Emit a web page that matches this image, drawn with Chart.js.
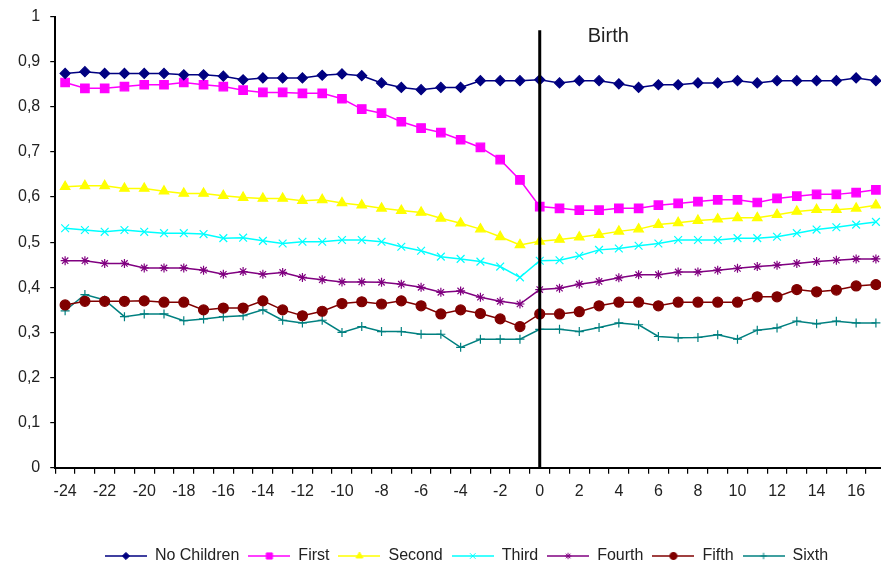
<!DOCTYPE html>
<html>
<head>
<meta charset="utf-8">
<title>Birth</title>
<script src="https://cdn.jsdelivr.net/npm/chart.js"></script>
<style>
  body { margin: 0; background: #fff; overflow: hidden; }
  #contenedor { position: absolute; left: 0; top: -3px; width: 893px; height: 577px; }
</style>
</head>
<body>
<div id="contenedor"><canvas id="myChart"></canvas></div>
<script>
// Meses alrededor del nacimiento (eje x)
const meses = [-24, -23, -22, -21, -20, -19, -18, -17, -16, -15, -14, -13, -12, -11, -10, -9, -8, -7, -6, -5, -4, -3, -2, -1,
  0, 1, 2, 3, 4, 5, 6, 7, 8, 9, 10, 11, 12, 13, 14, 15, 16, 17];

// Series
const noChildren = [0.874, 0.878, 0.874, 0.874, 0.874, 0.874, 0.871, 0.871, 0.868, 0.86, 0.864, 0.864, 0.864, 0.87, 0.873, 0.869, 0.853, 0.843, 0.838, 0.843, 0.843, 0.858, 0.858, 0.858,
  0.86, 0.853, 0.858, 0.858, 0.851, 0.843, 0.849, 0.849, 0.853, 0.853, 0.858, 0.853, 0.858, 0.858, 0.858, 0.858, 0.864, 0.858];
const first = [0.854, 0.841, 0.841, 0.845, 0.849, 0.849, 0.854, 0.849, 0.845, 0.837, 0.832, 0.832, 0.83, 0.83, 0.818, 0.795, 0.786, 0.767, 0.753, 0.743, 0.727, 0.71, 0.683, 0.638,
  0.579, 0.575, 0.571, 0.571, 0.575, 0.575, 0.582, 0.586, 0.59, 0.594, 0.594, 0.588, 0.597, 0.602, 0.606, 0.606, 0.61, 0.616];
const second = [0.623, 0.625, 0.625, 0.619, 0.619, 0.613, 0.608, 0.608, 0.603, 0.599, 0.597, 0.597, 0.592, 0.594, 0.587, 0.582, 0.575, 0.57, 0.566, 0.553, 0.542, 0.529, 0.512, 0.494,
  0.502, 0.506, 0.511, 0.517, 0.524, 0.529, 0.539, 0.543, 0.548, 0.551, 0.554, 0.554, 0.561, 0.568, 0.572, 0.572, 0.575, 0.582];
const third = [0.531, 0.527, 0.523, 0.527, 0.523, 0.52, 0.52, 0.518, 0.509, 0.51, 0.503, 0.497, 0.501, 0.501, 0.505, 0.505, 0.501, 0.49, 0.481, 0.468, 0.463, 0.457, 0.446, 0.422,
  0.459, 0.46, 0.47, 0.483, 0.486, 0.492, 0.497, 0.505, 0.505, 0.505, 0.509, 0.509, 0.512, 0.52, 0.528, 0.533, 0.539, 0.545];
const fourth = [0.459, 0.459, 0.453, 0.453, 0.443, 0.443, 0.443, 0.438, 0.429, 0.435, 0.429, 0.433, 0.422, 0.417, 0.412, 0.412, 0.411, 0.407, 0.4, 0.389, 0.392, 0.378, 0.369, 0.363,
  0.395, 0.398, 0.407, 0.413, 0.421, 0.428, 0.428, 0.434, 0.434, 0.438, 0.442, 0.446, 0.449, 0.453, 0.457, 0.46, 0.463, 0.463];
const fifth = [0.361, 0.369, 0.369, 0.369, 0.37, 0.367, 0.367, 0.35, 0.354, 0.354, 0.37, 0.35, 0.337, 0.347, 0.364, 0.368, 0.363, 0.37, 0.359, 0.341, 0.35, 0.342, 0.33, 0.313,
  0.341, 0.341, 0.346, 0.359, 0.367, 0.367, 0.359, 0.367, 0.367, 0.367, 0.367, 0.379, 0.379, 0.395, 0.39, 0.394, 0.403, 0.406];
const sixth = [0.348, 0.384, 0.372, 0.335, 0.341, 0.341, 0.326, 0.33, 0.335, 0.337, 0.35, 0.327, 0.321, 0.327, 0.3, 0.313, 0.302, 0.302, 0.296, 0.296, 0.267, 0.285, 0.285, 0.285,
  0.307, 0.307, 0.302, 0.311, 0.321, 0.317, 0.291, 0.288, 0.289, 0.295, 0.285, 0.305, 0.31, 0.325, 0.319, 0.325, 0.321, 0.321];

const nombres = ["No Children", "First", "Second", "Third", "Fourth", "Fifth", "Sixth"];
const series = [noChildren, first, second, third, fourth, fifth, sixth];

// estilos de cada serie
const colores = ["#000080", "#ff00ff", "#ffff00", "#00ffff", "#800080", "#800000", "#008080"];
const marcas = ["rectRot", "rect", "triangle", "crossRot", "star", "circle", "cross"];
const radios = [5, 6, 5.5, 5.5, 4.5, 5, 4.5];

const fuente = '"Liberation Sans", Arial, sans-serif';

// icono de la leyenda: linea + marca chica
function icono(i) {
  const c = document.createElement("canvas");
  c.width = 42;
  c.height = 14;
  const ctx = c.getContext("2d");
  ctx.strokeStyle = colores[i];
  ctx.fillStyle = colores[i];
  ctx.lineWidth = 1.5;
  ctx.beginPath();
  ctx.moveTo(0, 7);
  ctx.lineTo(42, 7);
  ctx.stroke();
  ctx.lineWidth = 1;
  Chart.helpers.drawPoint(ctx, { pointStyle: marcas[i], radius: radios[i] * 0.72, borderWidth: 1, rotation: 0 }, 21, 7);
  return c;
}
const iconos = nombres.map((n, i) => icono(i));

// linea vertical del nacimiento
const lineaNacimiento = {
  id: "lineaNacimiento",
  afterLayout(chart) {
    // la leyenda del original esta un poco corrida a la derecha
    chart.legend.left += 16;
    chart.legend.right += 16;
  },
  afterDatasetsDraw(chart) {
    const { ctx, scales: { x, y } } = chart;
    const px = x.getPixelForValue(meses.indexOf(0));
    ctx.save();
    ctx.strokeStyle = "#000";
    ctx.lineWidth = 3;
    ctx.beginPath();
    ctx.moveTo(px, y.getPixelForValue(0));
    ctx.lineTo(px, y.getPixelForValue(0.97));
    ctx.stroke();
    ctx.fillStyle = "#222";
    ctx.font = "20px " + fuente;
    ctx.textBaseline = "middle";
    ctx.fillText("Birth", px + 48, y.getPixelForValue(0.955));
    ctx.restore();
  }
};

const data = {
  labels: meses,
  datasets: series.map((s, i) => ({
    label: nombres[i],
    data: s,
    borderColor: colores[i],
    backgroundColor: colores[i],
    borderWidth: 1.5,
    pointStyle: marcas[i],
    pointRadius: radios[i],
    pointHoverRadius: radios[i],
    pointBorderWidth: 1.2,
    tension: 0
  }))
};

const config = {
  type: "line",
  data,
  options: {
    responsive: true,
    maintainAspectRatio: false,
    animation: false,
    layout: { padding: { top: 7, right: 0, left: 8, bottom: 0 } },
    scales: {
      x: {
        offset: true,
        afterFit: (scale) => { scale.height += 30; },
        grid: { offset: true, drawOnChartArea: false, drawTicks: true, tickLength: 6, color: "#000", lineWidth: 1.2 },
        border: { display: true, color: "#000", width: 2 },
        ticks: {
          autoSkip: false,
          maxRotation: 0,
          padding: 8,
          color: "#222",
          font: { size: 16, family: fuente },
          callback: function (v) {
            const m = this.getLabelForValue(v);
            return m % 2 === 0 ? String(m) : "";
          }
        }
      },
      y: {
        min: 0,
        max: 1,
        grid: { drawOnChartArea: false, drawTicks: true, tickLength: 5, color: "#000", lineWidth: 1.2 },
        border: { display: true, color: "#000", width: 2 },
        ticks: {
          stepSize: 0.1,
          padding: 10,
          color: "#222",
          font: { size: 16, family: fuente },
          callback: (v) => (v === 0 || v === 1 ? String(v) : v.toFixed(1).replace(".", ","))
        }
      }
    },
    plugins: {
      tooltip: { enabled: false },
      legend: {
        position: "bottom",
        labels: {
          usePointStyle: true,
          pointStyleWidth: 42,
          padding: 9,
          color: "#222",
          font: { size: 16, family: fuente },
          generateLabels: (chart) => {
            const items = Chart.defaults.plugins.legend.labels.generateLabels(chart);
            items.forEach((it, i) => { it.pointStyle = iconos[i]; });
            return items;
          }
        }
      }
    }
  },
  plugins: [lineaNacimiento]
};

const myChart = new Chart(document.getElementById("myChart"), config);
</script>
</body>
</html>
